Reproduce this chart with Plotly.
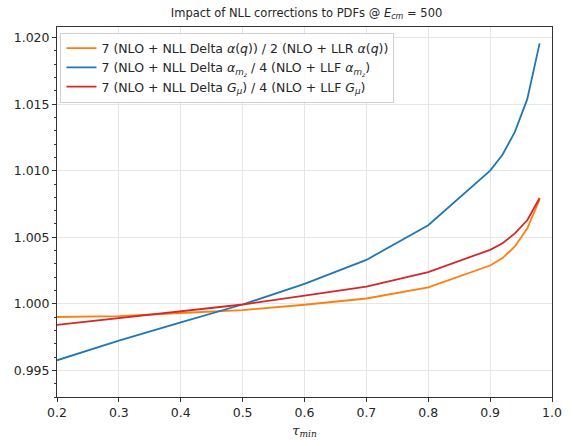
import plotly.graph_objects as go

tau = [0.2, 0.3, 0.4, 0.5, 0.6, 0.7, 0.8, 0.9, 0.92, 0.94, 0.96, 0.98]
ratio_alpha_q = [0.99901, 0.99908, 0.99931, 0.99953, 0.99993, 1.00040, 1.00123, 1.00288, 1.00344, 1.00431, 1.00566, 1.00785]
ratio_alpha_mz = [0.99576, 0.99724, 0.99860, 0.99995, 1.00150, 1.00330, 1.00591, 1.01001, 1.01120, 1.01292, 1.01538, 1.01957]
ratio_g_mu = [0.99842, 0.99894, 0.99943, 0.99995, 1.00061, 1.00130, 1.00239, 1.00406, 1.00455, 1.00529, 1.00628, 1.00795]

names = [
    "7 (NLO + NLL Delta <i>α</i>(<i>q</i>)) / 2 (NLO + LLR <i>α</i>(<i>q</i>))",
    "7 (NLO + NLL Delta <i>α</i><sub><i>m<sub>z</sub></i></sub> / 4 (NLO + LLF <i>α</i><sub><i>m<sub>z</sub></i></sub>)",
    "7 (NLO + NLL Delta <i>G</i><sub><i>μ</i></sub>) / 4 (NLO + LLF <i>G</i><sub><i>μ</i></sub>)",
]
colors = ["#ff7f0e", "#1f77b4", "#d62728"]
series = [ratio_alpha_q, ratio_alpha_mz, ratio_g_mu]

fig = go.Figure()
for n, c, s in zip(names, colors, series):
    fig.add_trace(go.Scatter(x=tau, y=s, mode="lines", name=n,
                             line=dict(color=c, width=1.8)))

axis_common = dict(
    showline=True, linecolor="#333333", linewidth=1, mirror=True,
    showgrid=True, gridcolor="#e6e6e6", gridwidth=1,
    ticks="outside", ticklen=4, tickcolor="#333333",
    tickfont=dict(family="DejaVu Sans", size=12.5, color="#262626"),
    zeroline=False,
)

fig.update_xaxes(range=[0.2, 1.0], tickvals=[0.2, 0.3, 0.4, 0.5, 0.6, 0.7, 0.8, 0.9, 1.0],
                 ticktext=["0.2", "0.3", "0.4", "0.5", "0.6", "0.7", "0.8", "0.9", "1.0"],
                 title=dict(text="<i>τ</i><sub><i>min</i></sub>", standoff=6,
                            font=dict(family="DejaVu Serif", size=13, color="#262626")),
                 **axis_common)
fig.update_yaxes(range=[0.993, 1.0208], tickvals=[0.995, 1.000, 1.005, 1.010, 1.015, 1.020],
                 ticktext=["0.995", "1.000", "1.005", "1.010", "1.015", "1.020"],
                 minor=dict(dtick=0.001, ticks="outside", ticklen=2.5, tickcolor="#333333", showgrid=False),
                 **axis_common)

fig.update_layout(
    width=573, height=446,
    margin=dict(l=57, r=11, t=27, b=43),
    paper_bgcolor="white", plot_bgcolor="white",
    title=dict(text="Impact of NLL corrections to PDFs @ <i>E</i><sub><i>cm</i></sub> = 500",
               x=0.535, xanchor="center", y=0.972, yanchor="middle",
               font=dict(family="DejaVu Sans", size=11.5, color="#262626")),
    legend=dict(x=0.007, y=0.985, xanchor="left", yanchor="top",
                bgcolor="rgba(255,255,255,0.85)", bordercolor="#d0d0d0", borderwidth=1,
                font=dict(family="DejaVu Sans", size=12.5, color="#262626")),
    showlegend=True,
)

fig.write_html("out.html")
